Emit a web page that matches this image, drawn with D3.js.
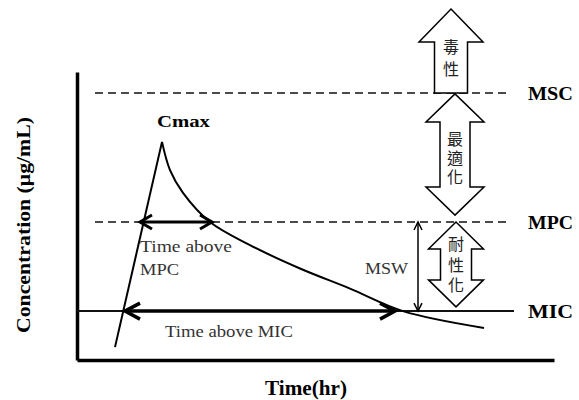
<!DOCTYPE html>
<html>
<head>
<meta charset="utf-8">
<script src="https://cdn.jsdelivr.net/npm/d3@7"></script>
<style>body{margin:0;background:#fff}</style>
</head>
<body>
<div id="chart"></div>
<script>
// concentration (ug/mL, arbitrary) vs time (hr)
const riseTime = [1.9, 4.25];
const riseConc = [4.3, 72.7];
const decayTime = [4.25, 4.65, 5.3, 6.65, 8.65, 11.15, 13.65, 16.3, 20.35];
const decayConc = [72.7, 63.3, 55.7, 46, 38.3, 30.5, 23.8, 16.3, 10.7];

// reference levels
const levelNames = ["MSC", "MPC", "MIC"];
const levelConc = [89, 46, 16.3];

// time-above arrows [start, end]
const timeAboveMPC = [3.15, 6.75];
const timeAboveMIC = [2.4, 15.9];
const mswTime = 17.05;

// zone arrows on the right
const zoneLabels = ["毒性", "最適化", "耐性化"];
const zoneTime = [18.7, 18.9, 18.95];
const zoneTop = [117, 88.7, 46];
const zoneBottom = [89, 48.3, 17.7];

const W = 579, H = 400;
const svg = d3.select("#chart").append("svg")
    .attr("width", W).attr("height", H);

const x = d3.scaleLinear().domain([0, 23.85]).range([77, 554]);
const y = d3.scaleLinear().domain([0, 96]).range([360, 72]);

const serif = "'Liberation Serif', 'Times New Roman', serif";

// axes without ticks
svg.append("g")
    .attr("transform", `translate(0,${y(0)})`)
    .call(d3.axisBottom(x).ticks(0).tickSizeOuter(0))
    .select(".domain").attr("stroke", "#000").attr("stroke-width", 3.5);
svg.append("g")
    .attr("transform", `translate(${x(0)},0)`)
    .call(d3.axisLeft(y).ticks(0).tickSizeOuter(0))
    .select(".domain").attr("stroke", "#000").attr("stroke-width", 3.5);

// dashed MSC / MPC, solid MIC
svg.selectAll(".level")
    .data(levelConc)
    .join("line")
    .attr("class", "level")
    .attr("x1", (d, i) => i < 2 ? 95 : x(0))
    .attr("x2", (d, i) => i < 2 ? 510 : 514)
    .attr("y1", d => y(d))
    .attr("y2", d => y(d))
    .attr("stroke", "#111")
    .attr("stroke-width", (d, i) => i < 2 ? 1.5 : 2)
    .attr("stroke-dasharray", (d, i) => i < 2 ? "8,5" : null);

svg.selectAll(".levelLabel")
    .data(levelNames)
    .join("text")
    .attr("class", "levelLabel")
    .attr("x", 528)
    .attr("y", (d, i) => y(levelConc[i]) + 7)
    .attr("textLength", 45)
    .attr("lengthAdjust", "spacingAndGlyphs")
    .style("font", `bold 19px ${serif}`)
    .text(d => d);

// concentration curve
const line = d3.line().x(d => x(d[0])).y(d => y(d[1]));
svg.append("path")
    .datum(riseTime.map((t, i) => [t, riseConc[i]]))
    .attr("d", line)
    .attr("fill", "none").attr("stroke", "#000").attr("stroke-width", 2);
svg.append("path")
    .datum(decayTime.map((t, i) => [t, decayConc[i]]))
    .attr("d", line.curve(d3.curveCatmullRom.alpha(0.5)))
    .attr("fill", "none").attr("stroke", "#000").attr("stroke-width", 2);

// double-headed arrows with open heads
function hArrow(t0, t1, c, w, len, half) {
    const x0 = x(t0), x1 = x(t1), yy = y(c);
    const g = svg.append("g").attr("fill", "none").attr("stroke", "#000")
        .attr("stroke-width", w).attr("stroke-linejoin", "miter");
    g.append("line").attr("x1", x0).attr("x2", x1).attr("y1", yy).attr("y2", yy);
    g.append("path").attr("d", `M${x0 + len},${yy - half}L${x0},${yy}L${x0 + len},${yy + half}`);
    g.append("path").attr("d", `M${x1 - len},${yy - half}L${x1},${yy}L${x1 - len},${yy + half}`);
}
function vArrow(t, c0, c1, w, len, half) {
    const xx = x(t), yTop = y(c0), yBot = y(c1);
    const g = svg.append("g").attr("fill", "none").attr("stroke", "#000").attr("stroke-width", w);
    g.append("line").attr("x1", xx).attr("x2", xx).attr("y1", yTop).attr("y2", yBot);
    g.append("path").attr("d", `M${xx - half},${yTop + len}L${xx},${yTop}L${xx + half},${yTop + len}`);
    g.append("path").attr("d", `M${xx - half},${yBot - len}L${xx},${yBot}L${xx + half},${yBot - len}`);
}
hArrow(timeAboveMPC[0], timeAboveMPC[1], levelConc[1], 3, 12, 7);
hArrow(timeAboveMIC[0], timeAboveMIC[1], levelConc[2], 3.5, 15, 8);
vArrow(mswTime, levelConc[1], levelConc[2], 1.5, 8, 4);

// text labels
const labels = [
    { t: "Cmax", x: 157, y: 127, w: 53, font: `bold 17px ${serif}`, fill: "#000" },
    { t: "Time above", x: 140, y: 252, w: 92, font: `16.5px ${serif}`, fill: "#333" },
    { t: "MPC", x: 140, y: 275, w: 39, font: `16.5px ${serif}`, fill: "#333" },
    { t: "Time above MIC", x: 165, y: 337, w: 128, font: `16.5px ${serif}`, fill: "#333" },
    { t: "MSW", x: 365, y: 274, w: 43, font: `16px ${serif}`, fill: "#333" },
    { t: "Time(hr)", x: 265, y: 395, w: 82, font: `bold 21px ${serif}`, fill: "#000" }
];
svg.selectAll(".lbl")
    .data(labels)
    .join("text")
    .attr("class", "lbl")
    .attr("x", d => d.x).attr("y", d => d.y)
    .attr("textLength", d => d.w)
    .attr("lengthAdjust", "spacingAndGlyphs")
    .style("font", d => d.font)
    .attr("fill", d => d.fill)
    .text(d => d.t);

svg.append("text")
    .attr("transform", "translate(30,333) rotate(-90)")
    .attr("textLength", 216)
    .attr("lengthAdjust", "spacingAndGlyphs")
    .style("font", `bold 19px ${serif}`)
    .text("Concentration (μg/mL)");

// block arrows for the zones
function blockPath(cx, yTop, yBot, up, down, headLen, headHalf, shaftHalf) {
    const p = [];
    if (up) p.push([cx, yTop], [cx + headHalf, yTop + headLen], [cx + shaftHalf, yTop + headLen]);
    else p.push([cx + shaftHalf, yTop]);
    if (down) p.push([cx + shaftHalf, yBot - headLen], [cx + headHalf, yBot - headLen], [cx, yBot],
        [cx - headHalf, yBot - headLen], [cx - shaftHalf, yBot - headLen]);
    else p.push([cx + shaftHalf, yBot], [cx - shaftHalf, yBot]);
    if (up) p.push([cx - shaftHalf, yTop + headLen], [cx - headHalf, yTop + headLen]);
    else p.push([cx - shaftHalf, yTop]);
    return "M" + p.map(q => q.join(",")).join("L") + "Z";
}
const zoneStyle = [
    { up: true, down: false, head: 33, headHalf: 32, shaftHalf: 16.5, mid: 61, step: 22 },
    { up: true, down: true, head: 28, headHalf: 29, shaftHalf: 15, mid: 159, step: 19 },
    { up: true, down: true, head: 27, headHalf: 27.5, shaftHalf: 15.5, mid: 267, step: 20.5 }
];
const cjkSize = 16;
zoneLabels.forEach((lab, i) => {
    const s = zoneStyle[i];
    const cx = x(zoneTime[i]);
    svg.append("path")
        .attr("d", blockPath(cx, y(zoneTop[i]), y(zoneBottom[i]), s.up, s.down, s.head, s.headHalf, s.shaftHalf))
        .attr("fill", "#fff").attr("stroke", "#000").attr("stroke-width", 1.5);
    // one vertical text per zone
    svg.append("text")
        .attr("x", cx)
        .attr("y", s.mid)
        .attr("text-anchor", "middle")
        .style("writing-mode", "vertical-rl")
        .style("letter-spacing", `${s.step - cjkSize}px`)
        .style("font", `${cjkSize}px 'Noto Sans CJK TC', sans-serif`)
        .attr("fill", "#222")
        .text(lab);
});
</script>
</body>
</html>
